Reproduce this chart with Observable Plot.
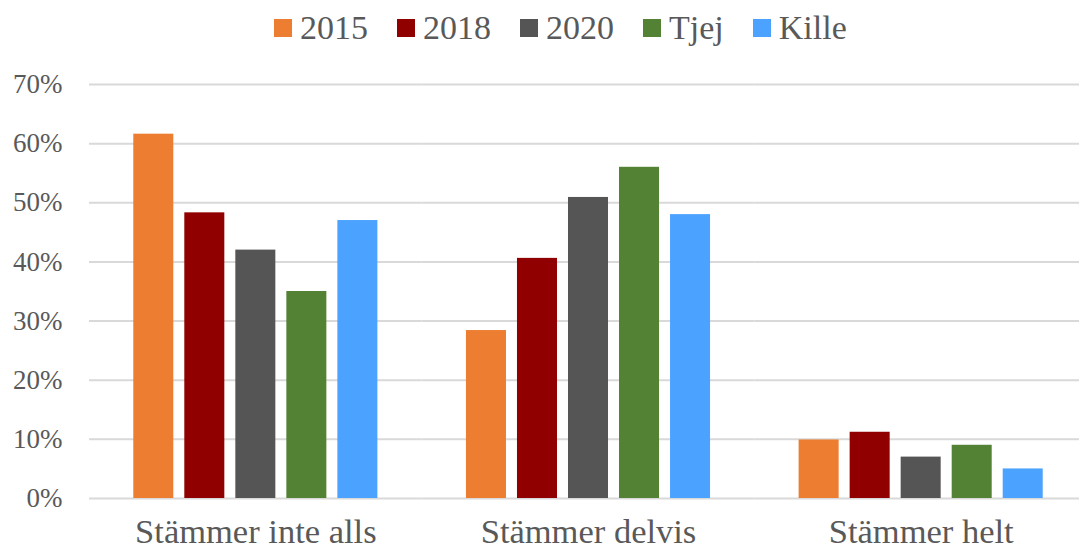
<!DOCTYPE html>
<html><head><meta charset="utf-8">
<script src="https://cdn.jsdelivr.net/npm/d3@7"></script>
<script src="https://cdn.jsdelivr.net/npm/@observablehq/plot@0.6"></script>
<style>
html,body{margin:0;padding:0;background:#fff;overflow:hidden;width:1079px;height:550px}
#legend{height:56px;display:flex;align-items:center;justify-content:flex-start;padding-left:274px;box-sizing:border-box;font-family:"Liberation Serif",serif;font-size:34px;color:#595959}
.item{display:flex;align-items:center;margin-right:29px}
.sw{width:18px;height:18px;margin-right:8px}
#chart{width:1087px;overflow:hidden}
#chart svg{display:block;max-width:none !important;width:1087px;height:494px}
</style></head><body>
<div id="legend"></div><div id="chart"></div>
<script>
const categories = ["Stämmer inte alls", "Stämmer delvis", "Stämmer helt"];
const series = ["2015", "2018", "2020", "Tjej", "Kille"];
const colors = ["#ED7D31", "#900000", "#555555", "#548235", "#4BA3FF"];
const v2015 = [0.616, 0.284, 0.099];
const v2018 = [0.483, 0.406, 0.112];
const v2020 = [0.420, 0.509, 0.070];
const vTjej = [0.350, 0.560, 0.090];
const vKille = [0.470, 0.480, 0.050];
const yTicks = [0, 0.1, 0.2, 0.3, 0.4, 0.5, 0.6, 0.7];

const valuesBySeries = [v2015, v2018, v2020, vTjej, vKille];
const data = [];
categories.forEach((c, i) => series.forEach((s, j) => data.push({category: c, series: s, value: valuesBySeries[j][i]})));

const legend = document.getElementById("legend");
series.forEach((s, j) => {
  const it = document.createElement("div"); it.className = "item";
  const sw = document.createElement("div"); sw.className = "sw"; sw.style.background = colors[j];
  const t = document.createElement("span"); t.textContent = s;
  it.appendChild(sw); it.appendChild(t); legend.appendChild(it);
});

const fmt = d => Math.round(d * 100) + "%";
const chart = Plot.plot({
  width: 1087, height: 494,
  marginLeft: 89, marginRight: 0, marginTop: 28, marginBottom: 52,
  style: {fontFamily: "'Liberation Serif', serif", fontSize: "27px", color: "#595959", background: "#fff"},
  fx: {domain: categories, padding: 0, label: null, round: false},
  x: {domain: series, paddingInner: 11/51, paddingOuter: 0.868, axis: null, round: false},
  y: {domain: [0, 0.7], label: null},
  color: {domain: series, range: colors},
  marks: [
    Plot.ruleY(yTicks, {stroke: "#d9d9d9", strokeWidth: 2}),
    Plot.barY(data, {fx: "category", x: "series", y: "value", fill: "series"}),
    Plot.axisY({ticks: yTicks, tickSize: 0, tickPadding: 27, tickFormat: fmt, fontSize: 27, label: null}),
    Plot.axisFx({anchor: "bottom", tickSize: 0, tickPadding: 20, fontSize: 34.5, label: null})
  ]
});
document.getElementById("chart").appendChild(chart);
</script>
</body></html>
